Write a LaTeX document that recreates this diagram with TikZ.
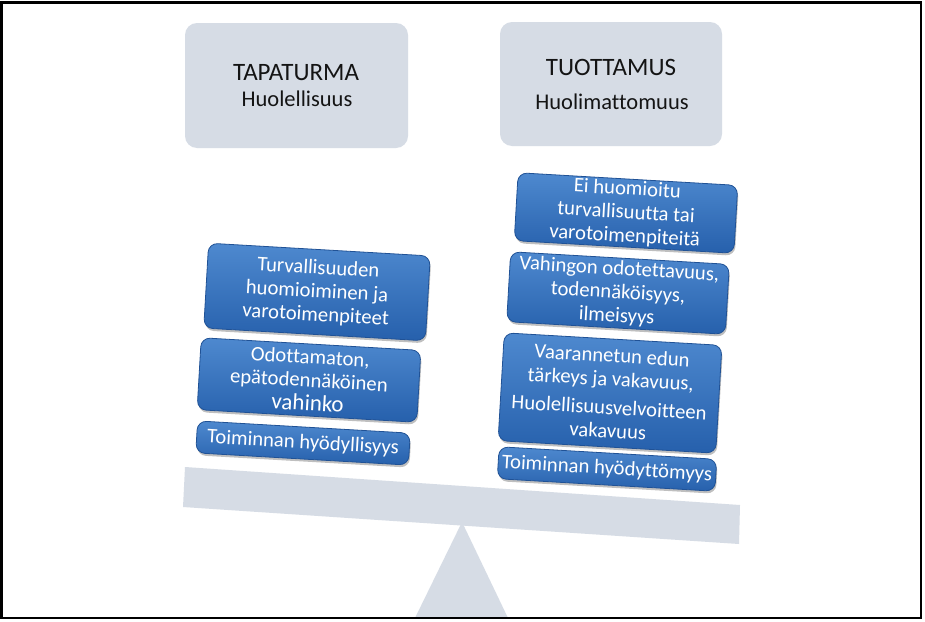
\documentclass[tikz,border=0pt]{standalone}
\usepackage{fontspec}
\setmainfont{Carlito}[Ligatures={NoCommon}]
\usetikzlibrary{shadows}
\definecolor{grayblue}{RGB}{214,220,229}
\definecolor{bTop}{RGB}{78,137,207}
\definecolor{bBot}{RGB}{38,96,172}
\definecolor{bEdge}{RGB}{32,82,150}
\definecolor{darktext}{RGB}{20,20,20}
\begin{document}
\begin{tikzpicture}[x=1pt,y=-1pt,
  graybox/.style={fill=grayblue, draw=none, rounded corners=12pt},
  titletext/.style={text=darktext, inner sep=0pt, font=\fontsize{25}{28}\selectfont},
  subtext/.style={text=darktext, inner sep=0pt, font=\fontsize{22.5}{25}\selectfont},
  bluebox/.style={rounded corners=9pt, top color=bTop, bottom color=bBot,
    draw=bEdge, line width=0.8pt, text=white, align=center,
    font=\fontsize{20.7}{23.5}\selectfont, rotate=-3.3, minimum width=220pt,
    inner sep=1pt,
    drop shadow={shadow xshift=1pt, shadow yshift=-2.5pt, opacity=0.25, fill=black}}
]
\useasboundingbox (0,0) rectangle (925,621);
\fill[white] (0,0) rectangle (925,621);

% top gray boxes
\node[graybox, minimum width=223pt, minimum height=125pt] (tap) at (296.5,85.5) {};
\node[titletext] (tapT) at (296,73) {TAPATURMA};
\node[subtext] (tapS) at (297,99) {Huolellisuus};

\node[graybox, minimum width=222pt, minimum height=124pt] (tuo) at (611,84) {};
\node[titletext] (tuoT) at (611,67) {TUOTTAMUS};
\node[subtext] (tuoS) at (612,102) {Huolimattomuus};

% seesaw
\fill[grayblue] (462,522) -- (508,618) -- (415,618) -- cycle;
\fill[grayblue] (185,467) -- (740,505) -- (739,544) -- (183,507) -- cycle;

% left column
\node[bluebox, minimum width=222pt, minimum height=85pt] (l1) at (317,292)
  {Turvallisuuden\\huomioiminen ja\\varotoimenpiteet};
\node[bluebox, minimum width=220pt, minimum height=72pt] (l2) at (309,380)
  {Odottamaton,\\epätodennäköinen\\{\fontsize{23}{22}\selectfont vahinko}};
\node[bluebox, minimum width=213pt, minimum height=32pt] (l3) at (303,443)
  {Toiminnan hyödyllisyys};

% right column
\node[bluebox, minimum width=220pt, minimum height=68pt] (r1) at (626,213)
  {Ei huomioitu\\turvallisuutta tai\\varotoimenpiteitä};
\node[bluebox, minimum width=219pt, minimum height=70pt] (r2) at (618,293)
  {Vahingon odotettavuus,\\todennäköisyys,\\ilmeisyys};
\node[bluebox, minimum width=218pt, minimum height=108pt] (r3) at (610,393)
  {Vaarannetun edun\\tärkeys ja vakavuus,\\[5pt]Huolellisuusvelvoitteen\\vakavuus};
\node[bluebox, minimum width=218pt, minimum height=32pt] (r4) at (607,469)
  {Toiminnan hyödyttömyys};

% frame
\draw[line width=2.6pt, black] (1.7,2.7) rectangle (921,618);
\end{tikzpicture}
\end{document}
